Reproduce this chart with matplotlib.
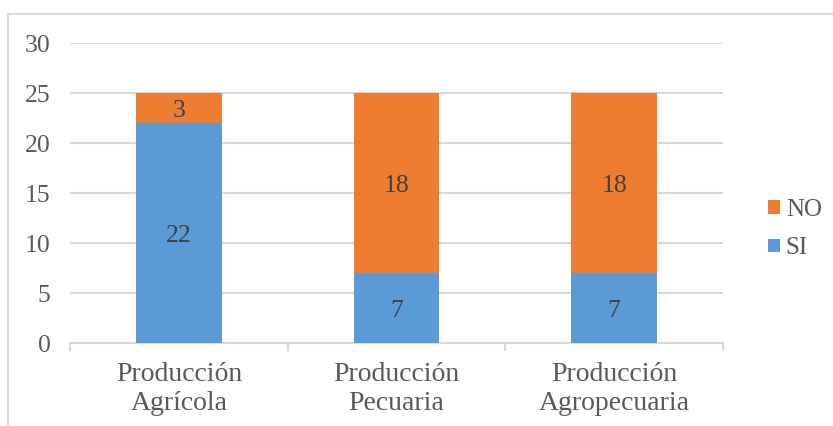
import matplotlib
matplotlib.use("Agg")
import matplotlib.pyplot as plt
from matplotlib.patches import Rectangle
import numpy as np

categories = ["Producción\nAgrícola", "Producción\nPecuaria", "Producción\nAgropecuaria"]
si_values = [22, 7, 7]
no_values = [3, 18, 18]

BLUE = "#5B9BD5"
ORANGE = "#ED7D31"
TEXT = "#595959"
GRID = "#D9D9D9"

plt.rcParams["font.family"] = ["Liberation Serif", "DejaVu Serif"]

fig = plt.figure(figsize=(8.33, 4.26), dpi=100)
ax = fig.add_axes([70 / 833, 83 / 426, 653 / 833, 300 / 426])

x = np.arange(len(categories))
width = 0.395
bars_si = ax.bar(x, si_values, width, color=BLUE, label="SI", zorder=3)
bars_no = ax.bar(x, no_values, width, bottom=si_values, color=ORANGE, label="NO", zorder=3)

for bars in (bars_si, bars_no):
    for ann in ax.bar_label(bars, label_type="center", fontsize=18.5, color="#404040"):
        ann.xyann = (0, -2.2)

ax.set_xlim(-0.5, len(categories) - 0.5)
ax.set_ylim(0, 30)
ax.set_yticks(range(0, 31, 5))
ax.yaxis.grid(True, color=GRID, linewidth=1.5, zorder=0)
ax.set_axisbelow(True)

for side in ("top", "right", "left"):
    ax.spines[side].set_visible(False)
ax.spines["bottom"].set_color(GRID)
ax.spines["bottom"].set_linewidth(1.5)

ax.tick_params(axis="y", length=0, pad=14, labelsize=18.5, labelcolor=TEXT)
ax.set_xticks(x)
ax.set_xticklabels(categories, fontsize=20, color=TEXT, linespacing=1.2)
ax.tick_params(axis="x", length=0, pad=14)
# category separators below the axis
ax.set_xticks(np.arange(-0.5, len(categories)), minor=True)
ax.tick_params(axis="x", which="minor", length=6, width=1.5, color=GRID)

handles = [bars_no, bars_si]
ax.legend(handles, ["NO", "SI"], loc="center left", bbox_to_anchor=(1.035, 0.38),
          frameon=False, fontsize=18, labelcolor=TEXT, handlelength=0.45,
          handleheight=0.45, handletextpad=0.25, labelspacing=0.65)

# chart area border
fig.patches.append(Rectangle((8 / 833, -0.1), 1.0, (426 - 14) / 426 + 0.1,
                             transform=fig.transFigure, fill=False,
                             edgecolor=GRID, linewidth=1.5))

fig.savefig("out.png", dpi=100)
